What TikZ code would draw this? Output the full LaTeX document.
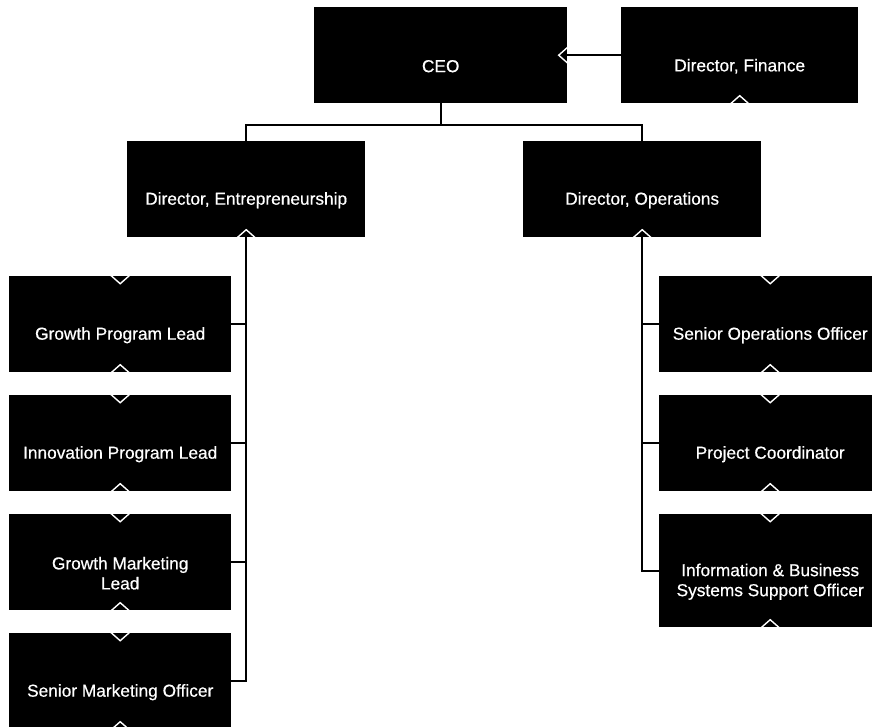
\documentclass[tikz,border=0pt]{standalone}
\usepackage{fontspec}
\newfontfamily\lblfont{Liberation Sans}[FakeBold=0.5]
\usetikzlibrary{shapes.geometric,calc}
\tikzset{
  box/.style={fill=black, draw=none, inner sep=0pt, anchor=north west},
  lbl/.style={text=white, align=center, inner sep=0pt, font=\lblfont\fontsize{17.3}{20}\selectfont},
  dmark/.style={diamond, draw=white, line width=1.4pt, inner sep=0pt, minimum width=18pt, minimum height=16pt},
  conn/.style={draw=black, line width=2.2pt},
}
\newcommand{\orgbox}[6]{%
  \node[box, minimum width=#4-#2, minimum height=#5-#3] (#1) at (#2,#3) {};
  \node[lbl] (#1t) at ($(#1.center)+(0,11)$) {#6};
}
\begin{document}
\begin{tikzpicture}[x=1pt,y=-1pt]
\clip (0,0) rectangle (872,726);
\useasboundingbox (0,0) rectangle (872,726);
\fill[white] (0,0) rectangle (872,726);
% top level
\orgbox{ceo}{314}{7}{567}{103}{CEO}
\orgbox{fin}{621}{7}{858}{103}{Director, Finance}
\orgbox{de}{127}{141}{365}{237}{Director, Entrepreneurship}
\orgbox{do}{523}{141}{761}{237}{Director, Operations}
% left column
\orgbox{gpl}{9}{276}{231}{372}{Growth Program Lead}
\orgbox{ipl}{9}{395}{231}{491}{Innovation Program Lead}
\orgbox{gml}{9}{514}{231}{610}{Growth Marketing\\Lead}
\orgbox{smo}{9}{633}{231}{729}{Senior Marketing Officer}
% right column
\orgbox{soo}{659}{276}{881}{372}{Senior Operations Officer}
\orgbox{pc}{659}{395}{881}{491}{Project Coordinator}
\orgbox{isso}{659}{514}{881}{627}{Information \& Business\\Systems Support Officer}
% markers
\node[dmark] (m1) at (ceo.east) {};
\node[dmark] (m2) at (fin.south) {};
\node[dmark] (m3) at (de.south) {};
\node[dmark] (m4) at (do.south) {};
\foreach \b in {gpl,ipl,gml,smo,soo,pc,isso}{
  \node[dmark] at (\b.north) {};
  \node[dmark] at (\b.south) {};
}
% connectors
\coordinate (bar) at (440.5,125);
\draw[conn] (ceo.south) -- (ceo.south |- bar) -| (de.north);
\draw[conn] (ceo.south |- bar) -| (do.north);
\draw[conn] (fin.west) -- (ceo.east);
\foreach \b in {gpl,ipl,gml,smo}{
  \draw[conn] (de.south) |- (\b.east);
}
\foreach \b in {soo,pc,isso}{
  \draw[conn] (do.south) |- (\b.west);
}
\end{tikzpicture}
\end{document}
